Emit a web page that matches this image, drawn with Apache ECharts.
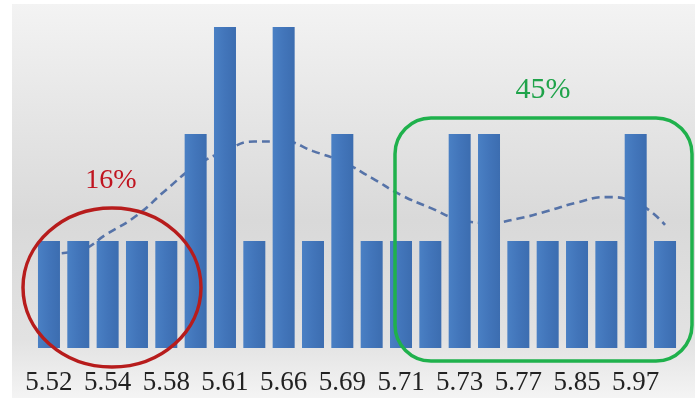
<!DOCTYPE html>
<html>
<head>
<meta charset="utf-8">
<script src="https://cdn.jsdelivr.net/npm/echarts@6/dist/echarts.min.js"></script>
<style>html,body{margin:0;padding:0;background:#fff}#c{width:695px;height:398px}</style>
</head>
<body>
<div id="c"></div>
<script>
const categories = ['5.52','5.53','5.54','5.56','5.58','5.60','5.61','5.63','5.66','5.68','5.69','5.70','5.71','5.72','5.73','5.75','5.77','5.80','5.85','5.90','5.97','5.99'];
const counts = [1,1,1,1,1,2,3,1,3,1,2,1,1,1,2,2,1,1,1,1,2,1];
const trend = [0.88,0.91,1.07,1.24,1.48,1.70,1.84,1.93,1.93,1.84,1.74,1.59,1.43,1.31,1.20,1.17,1.21,1.28,1.36,1.41,1.36,1.15];
const leftLabel = '16%';
const rightLabel = '45%';

const chart = echarts.init(document.getElementById('c'));
chart.setOption({
  backgroundColor: '#ffffff',
  animation: false,
  grid: {left: 34.3, right: 15.3, top: 27, bottom: 50},
  xAxis: {
    type: 'category', data: categories, boundaryGap: true,
    axisLine: {show: false}, axisTick: {show: false},
    axisLabel: {interval: 1, margin: 21, color: '#222222', fontFamily: 'Liberation Serif', fontSize: 27}
  },
  yAxis: {type: 'value', min: 0, max: 3, show: false, splitLine: {show: false}},
  graphic: [
    {type: 'rect', z: -100, silent: true, shape: {x: 12, y: 4, width: 683, height: 394},
      style: {fill: new echarts.graphic.LinearGradient(0, 0, 0, 1, [
        {offset: 0, color: '#f3f3f3'}, {offset: 0.55, color: '#d9d9d9'}, {offset: 0.85, color: '#e2e2e2'}, {offset: 1, color: '#f4f4f4'}])}},
    {type: 'ellipse', z: 100, silent: true, shape: {cx: 112, cy: 287.5, rx: 89, ry: 79.5},
      style: {fill: null, stroke: '#b71c1c', lineWidth: 3.5}},
    {type: 'rect', z: 100, silent: true, shape: {x: 395, y: 118, width: 297, height: 243, r: 36},
      style: {fill: null, stroke: '#1fb14c', lineWidth: 3.5}},
    {type: 'text', z: 100, silent: true, style: {text: leftLabel, x: 111, y: 181, align: 'center', verticalAlign: 'middle',
      font: '28px "Liberation Serif"', fill: '#c0141f'}},
    {type: 'text', z: 100, silent: true, style: {text: rightLabel, x: 543, y: 90, align: 'center', verticalAlign: 'middle',
      font: '30px "Liberation Serif"', fill: '#1fa34a'}}
  ],
  series: [
    {type: 'line', data: trend, smooth: true, showSymbol: false, z: 1,
      lineStyle: {type: [8, 5], width: 2.6, color: '#5673a8'}},
    {type: 'bar', data: counts, barWidth: 22, z: 2,
      itemStyle: {color: new echarts.graphic.LinearGradient(0, 0, 1, 0, [
        {offset: 0, color: '#4a80c4'}, {offset: 0.5, color: '#4275ba'}, {offset: 1, color: '#3c6db0'}])}}
  ]
});
</script>
</body>
</html>
